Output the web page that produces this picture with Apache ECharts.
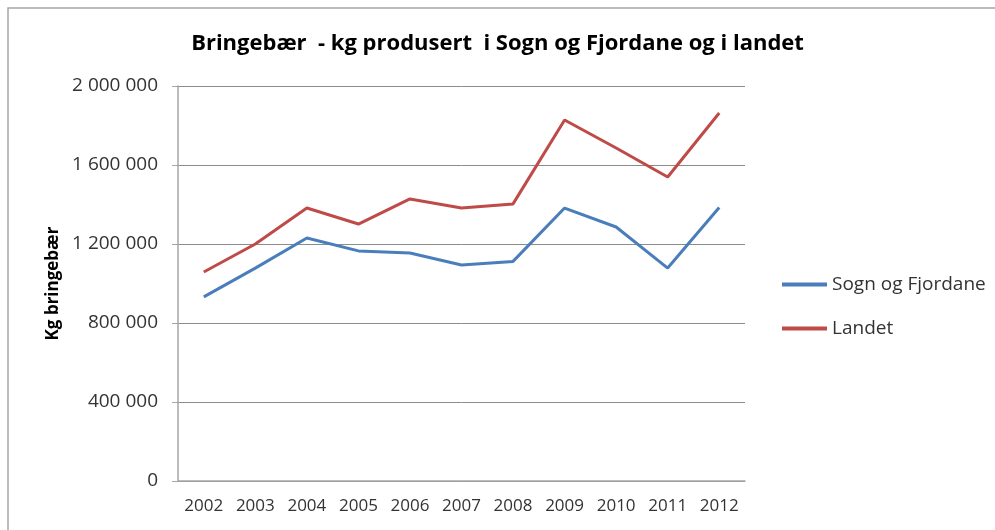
<!DOCTYPE html>
<html>
<head>
<meta charset="utf-8">
<script src="https://cdn.jsdelivr.net/npm/echarts@6/dist/echarts.min.js"></script>
<style>
  html, body { margin: 0; padding: 0; background: #fff; }
  #chart { width: 995px; height: 530px; }
</style>
</head>
<body>
<div id="chart"></div>
<script>
// 数据
const years = ['2002', '2003', '2004', '2005', '2006', '2007', '2008', '2009', '2010', '2011', '2012']
const sognOgFjordane = [932000, 1078000, 1230000, 1165000, 1154000, 1094000, 1112000, 1382000, 1286000, 1078000, 1385000]
const landet = [1058000, 1200000, 1382000, 1301000, 1428000, 1382000, 1403000, 1828000, 1686000, 1539000, 1863000]
const seriesNames = ['Sogn og Fjordane', 'Landet']
const titleText = 'Bringebær  - kg produsert  i Sogn og Fjordane og i landet'
const yAxisName = 'Kg bringebær'

const font = '"Open Sans", Lato, sans-serif'

function formatNumber(v) {
  return String(v).replace(/\B(?=(\d{3})+(?!\d))/g, ' ')
}

const chart = echarts.init(document.getElementById('chart'))

chart.setOption({
  animation: false,
  backgroundColor: '#fff',
  graphic: [{
    type: 'rect',
    shape: { x: 8, y: 8, width: 1000, height: 540 },
    style: { fill: 'none', stroke: '#a6a6a6', lineWidth: 1.5 },
    z: -1,
  }],
  title: {
    text: titleText,
    left: 'center',
    top: 28,
    textStyle: { fontFamily: font, fontSize: 22, fontWeight: 'bold', color: '#000' },
  },
  grid: { left: 178, right: 250, top: 86, bottom: 49, containLabel: false },
  legend: {
    orient: 'vertical',
    left: 777,
    top: 270,
    itemGap: 25,
    itemWidth: 45,
    itemHeight: 4,
    icon: 'rect',
    textStyle: { fontFamily: font, fontSize: 19, color: '#333' },
    data: seriesNames,
  },
  xAxis: {
    type: 'category',
    data: years,
    boundaryGap: true,
    axisLine: { lineStyle: { color: '#a6a6a6', width: 1.5 } },
    axisTick: { show: false },
    axisLabel: { fontFamily: font, fontSize: 17, color: '#333', margin: 17, interval: 0 },
  },
  yAxis: {
    type: 'value',
    min: 0,
    max: 2000000,
    interval: 400000,
    name: yAxisName,
    nameLocation: 'middle',
    nameGap: 115,
    nameTextStyle: { fontFamily: font, fontSize: 17, fontWeight: 'bold', color: '#000' },
    axisLine: { show: true, lineStyle: { color: '#a6a6a6', width: 1.5 } },
    axisTick: { show: true, length: 6, lineStyle: { color: '#a6a6a6' } },
    axisLabel: {
      fontFamily: font, fontSize: 19, color: '#333', margin: 20,
      formatter: formatNumber,
    },
    splitLine: { lineStyle: { color: '#8c8c8c', width: 1 } },
  },
  series: [
    {
      name: seriesNames[0],
      type: 'line',
      data: sognOgFjordane,
      symbol: 'none',
      lineStyle: { color: '#4a7ebb', width: 3 },
      itemStyle: { color: '#4a7ebb' },
    },
    {
      name: seriesNames[1],
      type: 'line',
      data: landet,
      symbol: 'none',
      lineStyle: { color: '#be4b48', width: 3 },
      itemStyle: { color: '#be4b48' },
    },
  ],
})
</script>
</body>
</html>
